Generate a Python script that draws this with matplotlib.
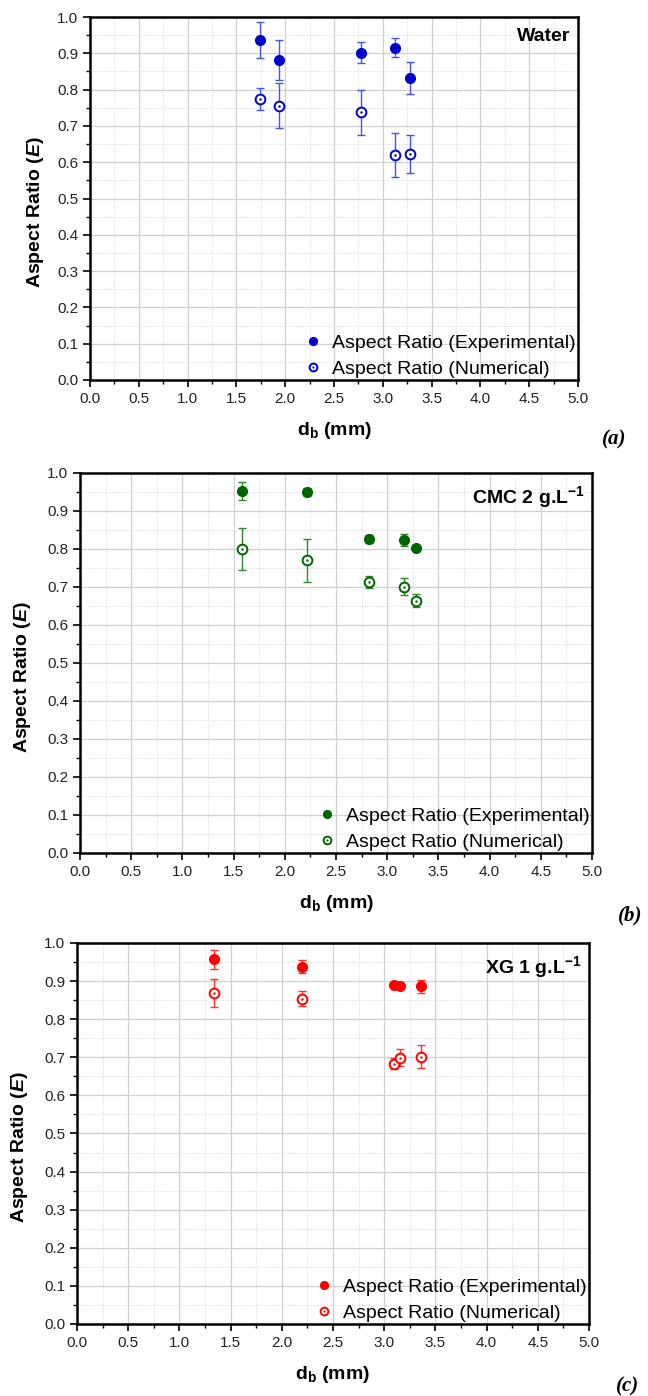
import matplotlib
matplotlib.use("Agg")
import matplotlib.pyplot as plt
from matplotlib.ticker import MultipleLocator

plt.rcParams['font.family'] = ['Liberation Sans', 'DejaVu Sans']
plt.rcParams['mathtext.fontset'] = 'custom'
plt.rcParams['mathtext.rm'] = 'Liberation Sans'
plt.rcParams['mathtext.bf'] = 'Liberation Sans:bold'
plt.rcParams['mathtext.it'] = 'Liberation Sans:italic:bold'

# bubble diameter (mm) and aspect ratio
water_d = [1.74, 1.94, 2.78, 3.12, 3.28]
water_e_exp = [0.936, 0.882, 0.902, 0.916, 0.832]
water_err_exp = [0.050, 0.055, 0.030, 0.027, 0.045]
water_e_num = [0.775, 0.755, 0.737, 0.620, 0.623]
water_err_num = [0.030, 0.062, 0.061, 0.060, 0.052]

cmc_d = [1.58, 2.22, 2.82, 3.16, 3.28]
cmc_e_exp = [0.953, 0.950, 0.826, 0.824, 0.803]
cmc_err_exp = [0.023, 0.010, 0.010, 0.015, 0.008]
cmc_e_num = [0.800, 0.770, 0.714, 0.701, 0.664]
cmc_err_num = [0.055, 0.057, 0.016, 0.022, 0.017]

xg_d = [1.34, 2.20, 3.10, 3.15, 3.36]
xg_e_exp = [0.957, 0.938, 0.891, 0.888, 0.886]
xg_err_exp = [0.025, 0.018, 0.006, 0.006, 0.017]
xg_e_num = [0.869, 0.854, 0.683, 0.699, 0.701]
xg_err_num = [0.036, 0.019, 0.015, 0.022, 0.030]

panels = [
    dict(d=water_d, e_exp=water_e_exp, err_exp=water_err_exp, e_num=water_e_num, err_num=water_err_num,
         title='Water', tag='(a)', col='#0000cc', ecol='#4455ee', rect=[0.1389, 0.7278, 0.7531, 0.2600]),
    dict(d=cmc_d, e_exp=cmc_e_exp, err_exp=cmc_err_exp, e_num=cmc_e_num, err_num=cmc_err_num,
         title=r'CMC 2 g.L$^{\mathbf{-1}}$', tag='(b)', col='#006400', ecol='#2a8a2a', rect=[0.1235, 0.3890, 0.7901, 0.2722]),
    dict(d=xg_d, e_exp=xg_e_exp, err_exp=xg_err_exp, e_num=xg_e_num, err_num=xg_err_num,
         title=r'XG 1 g.L$^{\mathbf{-1}}$', tag='(c)', col='#ff0000', ecol='#ff3030', rect=[0.1188, 0.0516, 0.7901, 0.2729]),
]

fig = plt.figure(figsize=(6.48, 13.96), dpi=100)

for p in panels:
    ax = fig.add_axes(p['rect'])
    ax.set_xlim(0, 5)
    ax.set_ylim(0, 1)
    ax.xaxis.set_major_locator(MultipleLocator(0.5))
    ax.xaxis.set_minor_locator(MultipleLocator(0.25))
    ax.yaxis.set_major_locator(MultipleLocator(0.1))
    ax.yaxis.set_minor_locator(MultipleLocator(0.05))
    ax.xaxis.set_major_formatter(lambda v, pos: f'{v:.1f}')
    ax.yaxis.set_major_formatter(lambda v, pos: f'{v:.1f}')
    ax.grid(True, which='major', color='#d0d0d0', lw=0.9)
    ax.grid(True, which='minor', color='#d8d8d8', lw=0.7, ls=(0, (1, 1.5)))
    ax.set_axisbelow(True)
    for s in ax.spines.values():
        s.set_linewidth(1.8)
    ax.tick_params(which='major', direction='out', length=5, width=1.2, labelsize=11, colors='black', labelcolor='#222222')
    ax.tick_params(which='minor', direction='out', length=3, width=1.0)

    ax.errorbar(p['d'], p['e_exp'], yerr=p['err_exp'], fmt='none', ecolor=p['ecol'], elinewidth=1.0, capsize=3, capthick=1.0)
    ax.errorbar(p['d'], p['e_num'], yerr=p['err_num'], fmt='none', ecolor=p['ecol'], elinewidth=1.0, capsize=3, capthick=1.0)
    h_exp, = ax.plot(p['d'], p['e_exp'], 'o', color=p['col'], ms=7, mec=p['col'], ls='none')
    h_num, = ax.plot(p['d'], p['e_num'], 'o', mfc='white', mec=p['col'], mew=1.4, ms=7, ls='none')
    h_dot, = ax.plot(p['d'], p['e_num'], '.', color=p['col'], ms=1.5, ls='none')

    ax.legend([h_exp, (h_num, h_dot)], ['Aspect Ratio (Experimental)', 'Aspect Ratio (Numerical)'],
              loc='lower right', frameon=False, fontsize=14, handlelength=0.8, handletextpad=0.6,
              labelspacing=0.42, borderaxespad=0.0, borderpad=0.1, markerscale=0.8)
    ax.text(0.985, 0.97, p['title'], transform=ax.transAxes, ha='right', va='top', fontsize=14, fontweight='bold')

    ax.set_ylabel(r'Aspect Ratio ($\mathit{E}$)', fontsize=14, fontweight='bold')
    ax.yaxis.set_label_coords(-0.091, 0.463)
    ax.set_xlabel(r'd$_{\mathbf{b}}$ (mm)', fontsize=14, fontweight='bold', labelpad=10)
    ax.text(1.075, -0.165, p['tag'], transform=ax.transAxes, ha='center', va='center', fontsize=15,
            fontweight='bold', fontstyle='italic', family='Liberation Serif')

fig.savefig('out.png', dpi=100)
